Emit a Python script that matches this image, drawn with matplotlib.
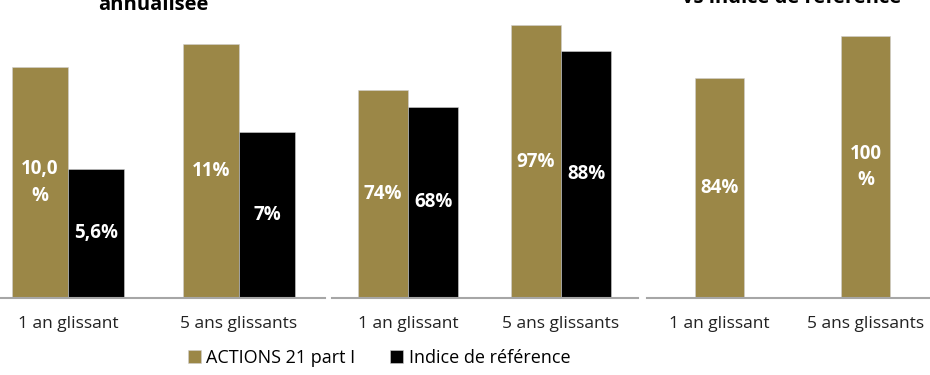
import numpy as np
import matplotlib
matplotlib.use("Agg")
import matplotlib.pyplot as plt

# data
periods = ["1 an glissant", "5 ans glissants"]
fund_name = "ACTIONS 21 part I"
index_name = "Indice de référence"

perf_fund = [10.0, 11.0]
perf_index = [5.6, 7.2]
perf_fund_lbl = ["10,0\n%", "11%"]
perf_index_lbl = ["5,6%", "7%"]

ratio_fund = [74, 97]
ratio_index = [68, 88]
ratio_fund_lbl = ["74%", "97%"]
ratio_index_lbl = ["68%", "88%"]

beat_fund = [84, 100]
beat_fund_lbl = ["84%", "100\n%"]

gold = "#9B8747"
black = "#000000"
font = "Open Sans"

W, H = 930, 375
fig = plt.figure(figsize=(W / 100, H / 100), dpi=100)
base_y = 298  # pixel row of the baselines


def make_ax(x0, x1, ymax):
    # axes spanning pixel columns x0..x1, from baseline up to the top edge
    ax = fig.add_axes([x0 / W, 1 - base_y / H, (x1 - x0) / W, base_y / H])
    ax.set_xlim(-0.5, 1.5)
    ax.set_ylim(0, ymax)
    for s in ["top", "right", "left"]:
        ax.spines[s].set_visible(False)
    ax.spines["bottom"].set_color("#A6A6A6")
    ax.spines["bottom"].set_linewidth(1.5)
    ax.set_yticks([])
    ax.set_xticks(range(len(periods)))
    ax.set_xticklabels(periods, fontsize=12.5, family=font, color="#222222")
    ax.tick_params(axis="x", length=0, pad=13)
    ax.patch.set_alpha(0)
    return ax


def bars(ax, pos, vals, labels, color):
    b = ax.bar(pos, vals, width=0.33, color=color, edgecolor="#D0D0D0", linewidth=0.4)
    for rect, lbl in zip(b, labels):
        ax.text(rect.get_x() + rect.get_width() / 2, rect.get_height() / 2, lbl,
                ha="center", va="center", color="white", fontsize=13.5,
                fontweight="bold", family=font, linespacing=1.45)
    return b


x = np.arange(len(periods))

# panel 1: performance annualisée
ax1 = make_ax(-17.5, 324.5, 12.9)
h1 = bars(ax1, x - 0.165, perf_fund, perf_fund_lbl, gold)
h2 = bars(ax1, x + 0.165, perf_index, perf_index_lbl, black)

# panel 2
ax2 = make_ax(331.5, 637.5, 106)
bars(ax2, x - 0.165, ratio_fund, ratio_fund_lbl, gold)
bars(ax2, x + 0.165, ratio_index, ratio_index_lbl, black)

# panel 3
ax3 = make_ax(646.5, 938.5, 113.7)
bars(ax3, x, beat_fund, beat_fund_lbl, gold)

# titles, mostly cropped off at the top
fig.text(153.5 / W, 1 - 10 / H, "annualisée", ha="center", va="baseline",
         fontsize=14.5, fontweight="bold", family=font)
fig.text(792 / W, 1 - 3 / H, "vs indice de référence", ha="center", va="baseline",
         fontsize=14.5, fontweight="bold", family=font)

fig.legend([h1, h2], [fund_name, index_name], loc="center", ncol=2,
           bbox_to_anchor=(379 / W, 1 - 358 / H), frameon=False,
           prop={"family": font, "size": 13}, handlelength=0.75, handleheight=0.75,
           handletextpad=0.3, columnspacing=1.9)

fig.savefig("out.png", dpi=100)
